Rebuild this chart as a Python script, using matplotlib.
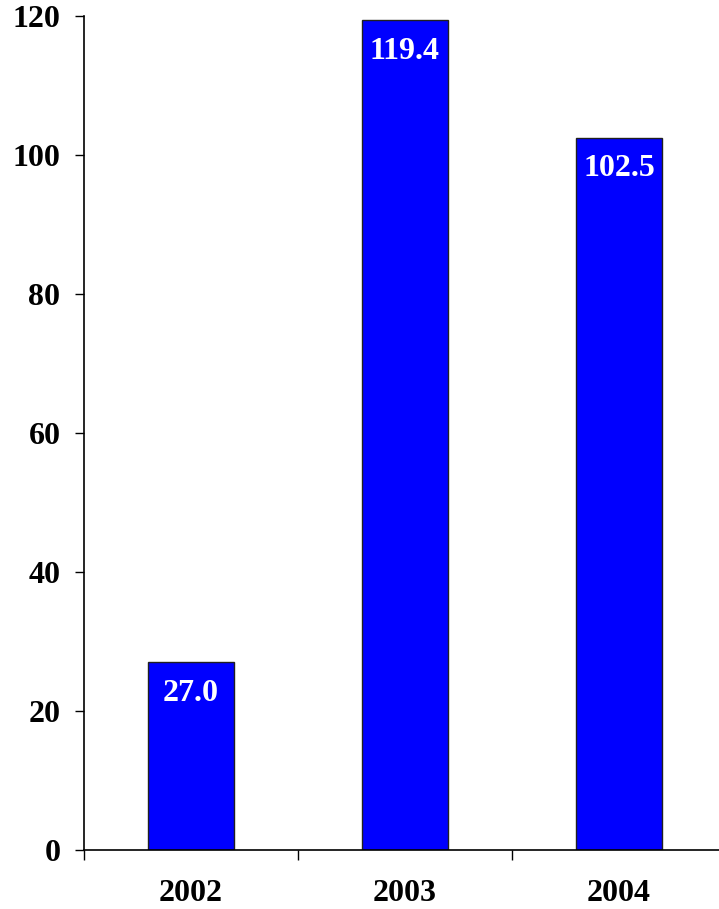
import matplotlib
matplotlib.use("Agg")
import matplotlib.pyplot as plt

years = ["2002", "2003", "2004"]
values = [27.0, 119.4, 102.5]
y_ticks = [0, 20, 40, 60, 80, 100, 120]

plt.rcParams["font.family"] = ["Liberation Serif", "DejaVu Serif"]
plt.rcParams["font.weight"] = "bold"

W, H = 719, 909
fig = plt.figure(figsize=(W / 100, H / 100), dpi=100)
left, right = 84, 726
bottom, top = 850, 16
ax = fig.add_axes([left / W, 1 - bottom / H, (right - left) / W, (bottom - top) / H])

x = list(range(len(years)))
bars = ax.bar(x, values, width=0.4, color="#0000FF", edgecolor="#202020", linewidth=1.0)

for xi, v in zip(x, values):
    ax.annotate(f"{v:.1f}", (xi, v), xytext=(0, -31), textcoords="offset pixels",
                ha="center", va="center", color="white", fontsize=23, fontweight="bold")

ax.set_xlim(-0.5, len(years) - 0.5)
ax.set_ylim(0, 120)
ax.set_yticks(y_ticks)
ax.set_yticklabels([str(t) for t in y_ticks])
ax.set_xticks([i - 0.5 for i in range(len(years) + 1)], minor=False)
ax.set_xticklabels([""] * (len(years) + 1))
ax.set_xticks(x, minor=True)
ax.set_xticklabels(years, minor=True)

ax.tick_params(axis="y", direction="out", length=6.5, width=1, pad=10.5, labelsize=23)
ax.tick_params(axis="x", which="major", direction="out", length=7.2, width=1)
ax.tick_params(axis="x", which="minor", length=0, pad=21, labelsize=23)

for s in ("top", "right"):
    ax.spines[s].set_visible(False)
for s in ("left", "bottom"):
    ax.spines[s].set_linewidth(1.2)

fig.savefig("out.png", dpi=100)
